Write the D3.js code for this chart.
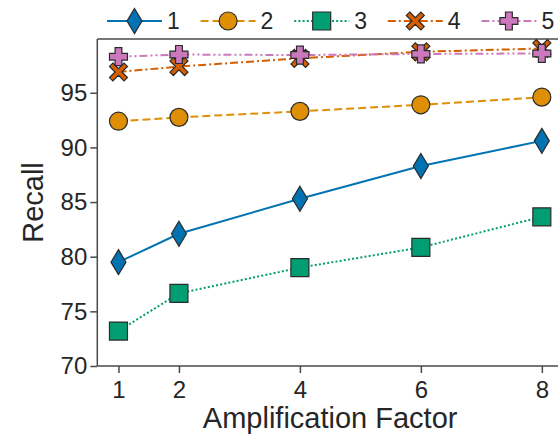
<!DOCTYPE html>
<html>
<head>
<meta charset="utf-8">
<script src="https://cdn.jsdelivr.net/npm/d3@7"></script>
<style>
  body { margin: 0; background: #fff; }
  svg { display: block; font-family: "Liberation Sans", Arial, sans-serif; }
</style>
</head>
<body>
<svg id="chart" width="558" height="436"></svg>
<script>
// data
const factors = [1, 2, 4, 6, 8];
const series1 = [79.5, 82.1, 85.3, 88.3, 90.6];
const series2 = [92.4, 92.75, 93.3, 93.9, 94.6];
const series3 = [73.2, 76.65, 79.0, 80.85, 83.65];
const series4 = [96.9, 97.4, 98.15, 98.75, 99.05];
const series5 = [98.3, 98.5, 98.45, 98.55, 98.6];
const seriesNames = ["1", "2", "3", "4", "5"];
const yTicks = [70, 75, 80, 85, 90, 95];

const colors = ["#0173b2", "#de8f05", "#029e73", "#d55e00", "#cc78bc"];
const dashes = [null, "8,4", "2,2.2", "8,3,2,3", "8,3,2,3,2,3"];
const shapes = ["diamond", "circle", "square", "x", "plus"];

const allSeries = [series1, series2, series3, series4, series5];

const svg = d3.select("#chart");
const mLeft = 97.3, mRight = 563, mTop = 39, mBottom = 366;

const x = d3.scaleLinear().domain([0.65, 8.35]).range([mLeft, mRight]);
const y = d3.scaleLinear().domain([70, 99.92]).range([mBottom, mTop]);

// marker paths, centered at 0,0
function markerPath(shape) {
  if (shape === "diamond") return "M0,-12.5L7.5,0L0,12.5L-7.5,0Z";
  if (shape === "circle") return d3.symbol(d3.symbolCircle, Math.PI * 9 * 9)();
  if (shape === "square") return "M-9,-9H9V9H-9Z";
  if (shape === "x") {
    const a = 3.4, b = 9;
    return `M${-b + a},${-b}L0,${-a}L${b - a},${-b}L${b},${-b + a}L${a},0L${b},${b - a}L${b - a},${b}L0,${a}L${-b + a},${b}L${-b},${b - a}L${-a},0L${-b},${-b + a}Z`;
  }
  const w = 3.4, r = 9;
  return `M${-w},${-r}H${w}V${-w}H${r}V${w}H${w}V${r}H${-w}V${w}H${-r}V${-w}H${-w}Z`;
}

// axes
const axisColor = "#4a4a4a";
const textColor = "#262626";

const yAxis = svg.append("g")
  .attr("transform", `translate(${mLeft},0)`)
  .call(d3.axisLeft(y).tickValues(yTicks).tickSize(7).tickPadding(3));
const xAxis = svg.append("g")
  .attr("transform", `translate(0,${mBottom})`)
  .call(d3.axisBottom(x).tickValues(factors).tickSize(7).tickPadding(8));

[yAxis, xAxis].forEach(g => {
  g.select(".domain").remove();
  g.selectAll(".tick line").attr("stroke", axisColor).attr("stroke-width", 1.5);
  g.selectAll(".tick text").attr("fill", textColor).style("font-size", "24px");
});

// spines
svg.append("line").attr("x1", mLeft).attr("x2", mRight).attr("y1", mTop).attr("y2", mTop)
  .attr("stroke", axisColor).attr("stroke-width", 1.5);
svg.append("line").attr("x1", mLeft).attr("x2", mRight).attr("y1", mBottom).attr("y2", mBottom)
  .attr("stroke", axisColor).attr("stroke-width", 1.5);
svg.append("line").attr("x1", mLeft).attr("x2", mLeft).attr("y1", mTop).attr("y2", mBottom)
  .attr("stroke", axisColor).attr("stroke-width", 1.5);
svg.append("line").attr("x1", mRight).attr("x2", mRight).attr("y1", mTop).attr("y2", mBottom)
  .attr("stroke", axisColor).attr("stroke-width", 1.5);

// axis labels
svg.append("text")
  .attr("x", (mLeft + mRight) / 2).attr("y", 428)
  .attr("text-anchor", "middle").attr("fill", textColor)
  .style("font-size", "29px")
  .text("Amplification Factor");
svg.append("text")
  .attr("transform", `translate(43,${(mTop + mBottom) / 2}) rotate(-90)`)
  .attr("text-anchor", "middle").attr("fill", textColor)
  .style("font-size", "29px")
  .text("Recall");

// lines and markers
const line = d3.line().x((d, i) => x(factors[i])).y(d => y(d));

allSeries.forEach((vals, k) => {
  svg.append("path")
    .datum(vals)
    .attr("d", line)
    .attr("fill", "none")
    .attr("stroke", colors[k])
    .attr("stroke-width", 2)
    .attr("stroke-dasharray", dashes[k]);
});

allSeries.forEach((vals, k) => {
  svg.append("g").selectAll("path")
    .data(vals)
    .join("path")
    .attr("transform", (d, i) => `translate(${x(factors[i])},${y(d)})`)
    .attr("d", markerPath(shapes[k]))
    .attr("fill", colors[k])
    .attr("stroke", "#2b2b2b")
    .attr("stroke-width", 1.2);
});

// legend
const legend = svg.append("g").attr("transform", "translate(107,21)");
seriesNames.forEach((name, k) => {
  const g = legend.append("g").attr("transform", `translate(${k * 93.6},0)`);
  g.append("line").attr("x1", 0).attr("x2", 55).attr("y1", 0).attr("y2", 0)
    .attr("stroke", colors[k]).attr("stroke-width", 2)
    .attr("stroke-dasharray", dashes[k]);
  g.append("path").attr("transform", "translate(27.5,0)")
    .attr("d", markerPath(shapes[k]))
    .attr("fill", colors[k]).attr("stroke", "#2b2b2b").attr("stroke-width", 1.2);
  g.append("text").attr("x", 60).attr("y", 8)
    .attr("fill", textColor).style("font-size", "23px")
    .text(name);
});
</script>
</body>
</html>
